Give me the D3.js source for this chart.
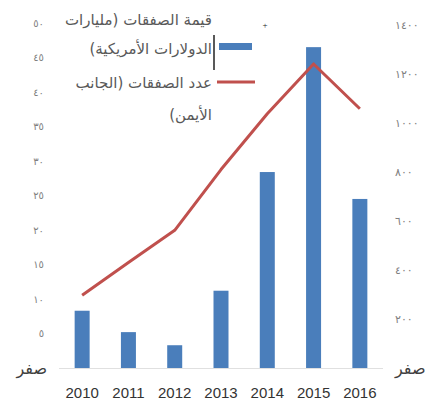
<!DOCTYPE html>
<html><head><meta charset="utf-8">
<script src="https://cdn.jsdelivr.net/npm/d3@7"></script>
<style>body{margin:0;background:#fff}</style>
</head><body><svg id="c" width="429" height="408"></svg>
<script>
const years = ["2010","2011","2012","2013","2014","2015","2016"];
const dealValues = [8.3, 5.2, 3.3, 11.2, 28.4, 46.5, 24.5];
const dealCounts = [297, 431, 562, 810, 1038, 1241, 1058];
const leftTicks = [0,5,10,15,20,25,30,35,40,45,50];
const leftTickLabels = ["صفر","٥","١٠","١٥","٢٠","٢٥","٣٠","٣٥","٤٠","٤٥","٥٠"];
const rightTicks = [0,200,400,600,800,1000,1200,1400];
const rightTickLabels = ["صفر","٢٠٠","٤٠٠","٦٠٠","٨٠٠","١٠٠٠","١٢٠٠","١٤٠٠"];
const legendValueLines = ["قيمة الصفقات (مليارات", "الدولارات الأمريكية)"];
const legendCountLines = ["عدد الصفقات (الجانب", "الأيمن)"];

const svg = d3.select("#c");
const x = d3.scaleBand().domain(years).range([59,383]).paddingInner(0.676).paddingOuter(0.338);
const yL = d3.scaleLinear().domain([0,50]).range([368,23]);
const yR = d3.scaleLinear().domain([0,1400]).range([368,25]);

svg.append("line").attr("x1",59).attr("x2",383).attr("y1",368.5).attr("y2",368.5)
  .attr("stroke","#e0e0e0").attr("stroke-width",1);

const axL = svg.append("g").attr("transform","translate(44,0)")
  .call(d3.axisLeft(yL).tickValues(leftTicks).tickFormat((d,i)=>leftTickLabels[i]).tickSize(0).tickPadding(0));
const axR = svg.append("g").attr("transform","translate(395,0)")
  .call(d3.axisRight(yR).tickValues(rightTicks).tickFormat((d,i)=>rightTickLabels[i]).tickSize(0).tickPadding(0));
[axL,axR].forEach(g=>{
  g.select(".domain").remove();
  g.selectAll("text").attr("font-family","DejaVu Sans").attr("fill","#808080");
});
axL.selectAll("text").attr("font-size",10);
axR.selectAll("text").attr("font-size",11);
axL.selectAll("text").filter((d,i)=>i===0).attr("font-size",16).attr("fill","#404040").attr("dx",3);
axR.selectAll("text").filter((d,i)=>i===0).attr("font-size",16).attr("fill","#404040");

const axB = svg.append("g").attr("transform","translate(0,368)")
  .call(d3.axisBottom(x).tickSize(0).tickPadding(19));
axB.select(".domain").remove();
axB.selectAll("text").attr("font-family","Liberation Sans, Arial").attr("font-size",15).attr("fill","#333");

svg.append("g").selectAll("rect").data(dealValues).join("rect")
  .attr("x",(d,i)=>x(years[i])).attr("width",x.bandwidth())
  .attr("y",d=>yL(d)).attr("height",d=>yL(0)-yL(d)).attr("fill","#4a7ebb");

const line = d3.line().x((d,i)=>x(years[i])+x.bandwidth()/2).y(d=>yR(d));
svg.append("path").datum(dealCounts).attr("d",line).attr("fill","none")
  .attr("stroke","#c0504d").attr("stroke-width",3).attr("stroke-linejoin","round");

// legend
const lg = svg.append("g").attr("font-family","DejaVu Sans").attr("font-size",15).attr("fill","#595959");
const legLines = [...legendValueLines, ...legendCountLines];
const legY = [25, 54, 88, 120];
legLines.forEach((t,i)=>{
  lg.append("text").attr("x",212).attr("y",legY[i]).attr("direction","rtl").attr("text-anchor","start").text(t);
});
svg.append("rect").attr("x",219).attr("y",43).attr("width",33).attr("height",7).attr("fill","#4a7ebb");
svg.append("line").attr("x1",217).attr("x2",255).attr("y1",82).attr("y2",82).attr("stroke","#c0504d").attr("stroke-width",3);
svg.append("line").attr("x1",214).attr("x2",214).attr("y1",35).attr("y2",70).attr("stroke","#222").attr("stroke-width",1.5);
svg.append("text").attr("x",265).attr("y",28).attr("font-size",9).attr("text-anchor","middle").attr("fill","#222").text("+");
</script></body></html>
